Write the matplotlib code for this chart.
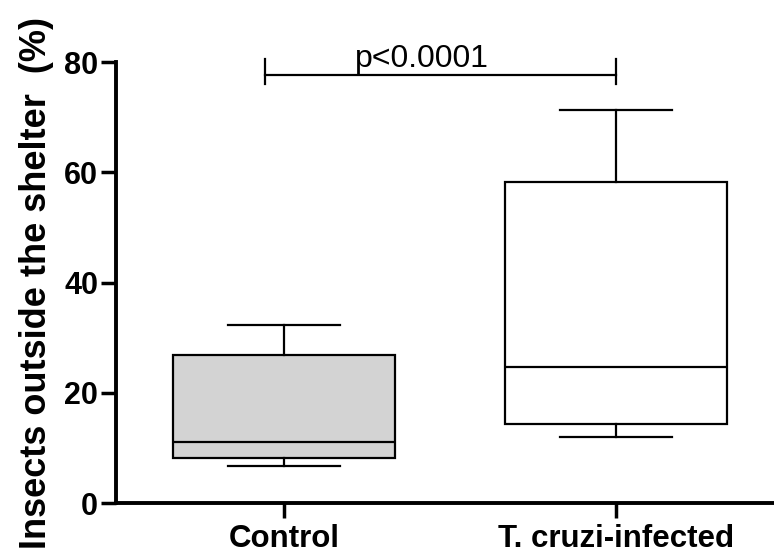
import matplotlib
matplotlib.use("Agg")
import matplotlib.pyplot as plt

categories = ["Control", "T. cruzi-infected"]
whis_low = [6.7, 11.9]
q1 = [8.1, 14.3]
median = [11.0, 24.7]
q3 = [26.9, 58.3]
whis_high = [32.3, 71.3]
fill_colors = ["#d3d3d3", "#ffffff"]
y_ticks = [0, 20, 40, 60, 80]
p_text = "p<0.0001"

plt.rcParams['font.family'] = ['Liberation Sans', 'DejaVu Sans']

fig = plt.figure(figsize=(7.74, 5.54), dpi=100)
ax = fig.add_axes([0.150, 0.092, 0.85, 0.796])

stats = []
for i, c in enumerate(categories):
    stats.append(dict(label=c, med=median[i], q1=q1[i], q3=q3[i],
                      whislo=whis_low[i], whishi=whis_high[i], fliers=[]))

positions = [1, 2]
bp = ax.bxp(stats, positions=positions, widths=0.67, capwidths=0.34,
            patch_artist=True, showfliers=False,
            boxprops=dict(linewidth=1.6, edgecolor='black'),
            medianprops=dict(linewidth=1.6, color='black'),
            whiskerprops=dict(linewidth=1.6, color='black'),
            capprops=dict(linewidth=1.6, color='black'))
for patch, fc in zip(bp['boxes'], fill_colors):
    patch.set_facecolor(fc)

ax.set_xlim(0.494, 2.476)
ax.set_ylim(0, 80)
ax.set_yticks(y_ticks)
ax.set_xticks(positions)
ax.set_xticklabels(categories, fontsize=22.5, fontweight='bold')
ax.tick_params(axis='y', labelsize=22, width=2.5, length=11, pad=2)
ax.tick_params(axis='x', width=2.5, length=11, pad=4)
for lbl in ax.get_yticklabels():
    lbl.set_fontweight('bold')

for s in ['top', 'right']:
    ax.spines[s].set_visible(False)
for s in ['left', 'bottom']:
    ax.spines[s].set_linewidth(2.8)

ax.set_ylabel("Insects outside the shelter  (%)", fontsize=26, fontweight='bold', labelpad=7)

# significance bar
x1, x2 = 0.943, 2.0
yb = 77.7
ax.plot([x1, x2], [yb, yb], color='black', lw=1.6, clip_on=False)
ax.plot([x1, x1], [76.0, 80.6], color='black', lw=1.6, clip_on=False)
ax.plot([x2, x2], [76.0, 80.6], color='black', lw=1.6, clip_on=False)
ax.text(1.416, yb + 0.2, p_text, ha='center', va='bottom', fontsize=23)

fig.savefig("out.png", dpi=100)
